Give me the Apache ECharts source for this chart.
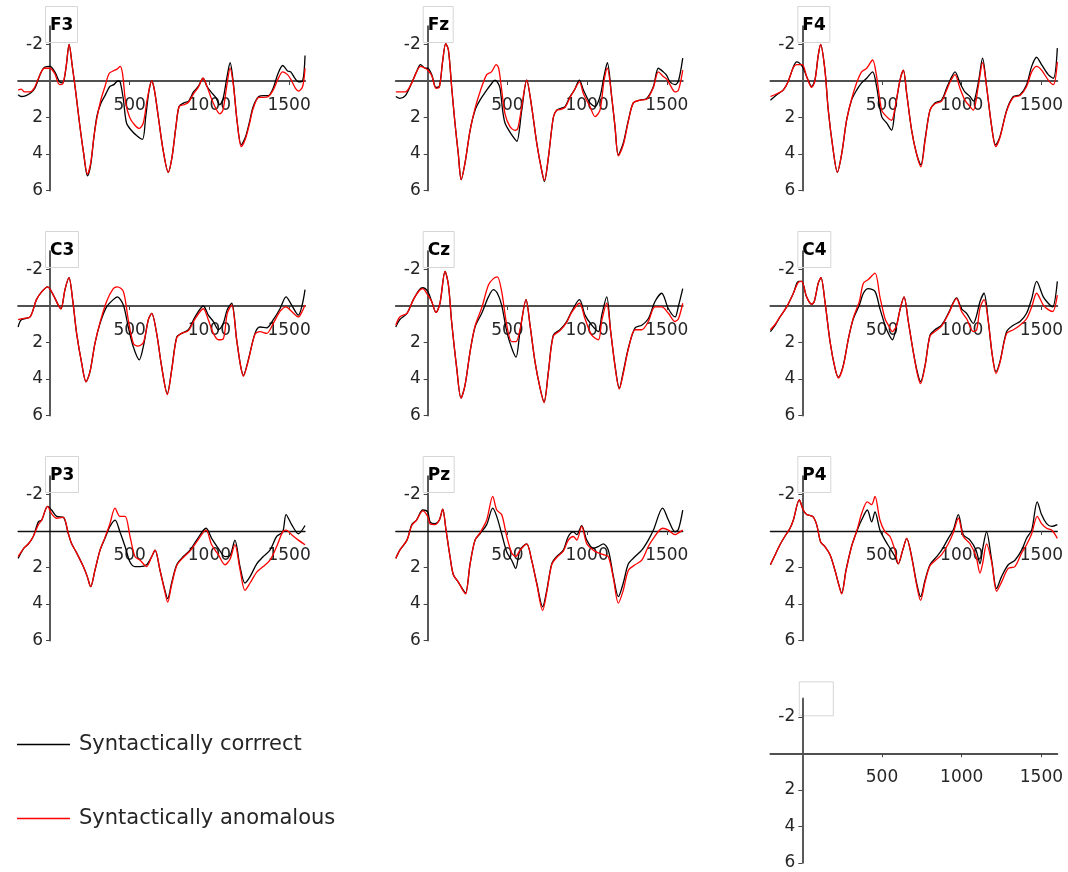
<!DOCTYPE html>
<html><head><meta charset="utf-8">
<script src="https://cdn.jsdelivr.net/npm/echarts@6/dist/echarts.min.js"></script>
<style>html,body{margin:0;padding:0;background:#fff}#c{width:1068px;height:872px}</style>
</head><body><div id="c"></div>
<script>
const channels = ['F3','Fz','F4','C3','Cz','C4','P3','Pz','P4'];
const conditionNames = ['Syntactically corrrect','Syntactically anomalous'];
const xTickLabels = [500, 1000, 1500];
const yTickLabels = [-2, 2, 4, 6];
const timeRange = [-200, 1600];
const ampRange = [-3, 6];

// [time ms, amplitude µV]
const F3_correct = [[-200,0.75],[-180,0.85],[-150,0.8],[-120,0.65],[-95,0.4],[-60,-0.4],[-35,-0.75],[0,-0.8],[30,-0.5],[60,0.05],[80,0.1],[100,-0.7],[120,-2.0],[140,-0.8],[160,0.5],[185,2.3],[210,3.9],[235,5.2],[255,4.6],[275,3.1],[295,1.9],[320,1.2],[345,0.8],[375,0.3],[400,0.2],[425,0.0],[440,0.05],[460,1.0],[480,2.3],[510,2.7],[545,3.0],[580,3.2],[600,2.0],[620,0.6],[638,0.0],[655,0.5],[680,2.0],[710,3.8],[742,5.0],[765,4.2],[790,2.5],[810,1.4],[840,1.2],[870,1.1],[900,0.6],[930,0.3],[960,-0.15],[985,0.3],[1010,0.6],[1040,0.9],[1065,1.3],[1085,1.0],[1110,-0.2],[1130,-1.0],[1150,0.1],[1175,2.3],[1200,3.5],[1225,3.1],[1250,2.3],[1275,1.4],[1310,0.85],[1340,0.8],[1370,0.8],[1400,0.4],[1430,-0.4],[1460,-0.85],[1490,-0.55],[1510,-0.5],[1540,-0.1],[1560,0.05],[1585,0.0],[1600,-1.4]];
const F3_anomalous = [[-200,0.5],[-180,0.45],[-160,0.6],[-130,0.6],[-100,0.4],[-60,-0.4],[-35,-0.7],[0,-0.7],[30,-0.4],[60,0.2],[80,0.15],[100,-0.7],[120,-2.0],[140,-0.8],[160,0.5],[185,2.3],[210,3.9],[235,5.1],[255,4.5],[275,3.1],[295,2.0],[320,1.0],[345,0.3],[370,-0.4],[395,-0.55],[420,-0.65],[440,-0.8],[455,-0.4],[475,1.2],[500,2.0],[530,2.4],[560,2.6],[585,2.3],[610,1.0],[638,0.0],[655,0.5],[680,2.0],[710,3.8],[742,5.0],[765,4.2],[790,2.5],[810,1.4],[840,1.3],[870,1.15],[900,0.7],[930,0.35],[960,-0.15],[985,0.3],[1010,0.9],[1040,1.5],[1065,1.8],[1085,1.6],[1110,0.2],[1130,-0.7],[1150,0.2],[1175,2.3],[1200,3.6],[1225,3.2],[1250,2.4],[1275,1.5],[1310,0.9],[1340,0.9],[1370,0.85],[1400,0.5],[1430,-0.1],[1460,-0.5],[1490,-0.35],[1510,-0.1],[1540,0.4],[1560,0.55],[1585,0.3],[1600,-0.7]];

const Fz_correct = [[-200,0.85],[-175,0.95],[-140,0.8],[-100,0.1],[-70,-0.5],[-45,-0.9],[-15,-0.7],[0,-0.7],[25,-0.35],[52,0.35],[73,0.3],[94,-1.1],[113,-2.05],[130,-1.7],[150,0.3],[171,2.3],[192,4.0],[210,5.4],[234,4.5],[266,2.7],[297,1.6],[328,1.05],[370,0.5],[400,0.15],[422,-0.05],[440,0.1],[454,0.4],[470,1.6],[485,2.3],[516,2.8],[548,3.2],[560,3.3],[590,1.6],[621,-0.05],[652,1.4],[684,3.4],[715,4.9],[732,5.5],[757,4.2],[788,2.0],[809,1.6],[835,1.5],[862,1.4],[893,0.85],[920,0.5],[952,-0.05],[977,0.5],[1018,1.2],[1050,1.4],[1081,0.85],[1106,-0.25],[1127,-1.0],[1154,0.85],[1175,2.5],[1196,4.05],[1227,3.4],[1259,2.15],[1290,1.2],[1332,1.05],[1374,0.95],[1416,0.3],[1447,-0.7],[1478,-0.5],[1500,-0.3],[1520,0.05],[1552,0.2],[1573,0.0],[1600,-1.25]];
const Fz_anomalous = [[-200,0.6],[-175,0.6],[-140,0.6],[-100,0.1],[-70,-0.5],[-45,-0.8],[-15,-0.7],[0,-0.6],[25,-0.3],[52,0.4],[73,0.35],[94,-1.1],[113,-2.05],[130,-1.7],[150,0.3],[171,2.3],[192,4.0],[210,5.4],[234,4.5],[266,2.7],[297,1.5],[328,0.6],[370,-0.35],[400,-0.5],[430,-0.9],[445,-0.7],[460,0.2],[485,1.8],[516,2.5],[548,2.7],[565,2.6],[590,1.4],[621,-0.05],[652,1.4],[684,3.4],[715,4.9],[732,5.45],[757,4.2],[788,2.0],[809,1.6],[835,1.55],[862,1.45],[893,0.9],[920,0.5],[952,0.05],[977,0.7],[1018,1.4],[1050,1.95],[1081,1.6],[1106,0.0],[1127,-0.7],[1154,0.85],[1175,2.5],[1196,4.1],[1227,3.5],[1259,2.2],[1290,1.2],[1332,1.05],[1374,1.0],[1416,0.35],[1447,-0.5],[1478,-0.25],[1500,-0.1],[1520,0.2],[1552,0.6],[1573,0.5],[1600,-0.6]];

const F4_correct = [[-200,1.05],[-160,0.75],[-120,0.5],[-90,0.05],[-55,-0.8],[-35,-1.05],[0,-0.8],[27,-0.25],[59,0.3],[79,-0.05],[100,-1.4],[115,-2.0],[142,-0.6],[163,1.6],[194,3.8],[220,5.0],[247,4.0],[278,2.15],[309,1.05],[341,0.5],[372,0.1],[404,-0.15],[441,-0.5],[466,0.3],[498,1.95],[529,2.3],[560,2.7],[581,1.6],[613,-0.05],[634,-0.6],[655,0.7],[686,2.7],[717,4.0],[744,4.6],[770,3.2],[801,1.6],[832,1.2],[874,1.05],[905,0.4],[930,-0.1],[958,-0.5],[989,0.1],[1020,0.6],[1052,0.85],[1073,1.1],[1104,0.1],[1131,-1.25],[1156,0.3],[1188,2.5],[1213,3.5],[1240,3.05],[1282,1.6],[1324,0.85],[1366,0.75],[1407,0.2],[1439,-0.8],[1470,-1.3],[1501,-0.9],[1543,-0.35],[1575,-0.15],[1600,-1.8]];
const F4_anomalous = [[-200,0.85],[-160,0.7],[-120,0.5],[-90,0.05],[-55,-0.75],[-35,-0.9],[0,-0.9],[27,-0.25],[59,0.35],[79,0.0],[100,-1.4],[115,-2.0],[142,-0.6],[163,1.6],[194,3.8],[220,5.0],[247,4.0],[278,2.15],[309,1.0],[341,0.1],[372,-0.5],[404,-0.7],[441,-1.15],[466,-0.25],[498,1.6],[529,1.95],[560,2.15],[581,1.5],[613,-0.05],[634,-0.6],[655,0.7],[686,2.7],[717,4.0],[744,4.7],[770,3.3],[801,1.6],[832,1.25],[874,1.1],[905,0.5],[930,0.0],[958,-0.35],[989,0.4],[1020,1.05],[1052,1.4],[1073,1.6],[1104,0.3],[1131,-1.0],[1156,0.3],[1188,2.5],[1213,3.6],[1240,3.1],[1282,1.65],[1324,0.9],[1366,0.8],[1407,0.3],[1439,-0.5],[1470,-0.8],[1501,-0.6],[1543,-0.05],[1575,0.2],[1600,-1.05]];

const C3_correct = [[-200,1.15],[-180,0.75],[-125,0.6],[-85,-0.35],[-50,-0.8],[-15,-1.05],[21,-0.6],[52,-0.05],[69,0.15],[94,-0.9],[119,-1.55],[142,-0.35],[167,1.5],[199,3.15],[226,4.15],[251,3.6],[282,2.05],[314,0.95],[355,0.05],[397,-0.35],[422,-0.5],[460,-0.05],[491,1.15],[523,2.25],[560,2.95],[586,2.2],[617,0.75],[638,0.4],[669,1.5],[700,3.3],[736,4.8],[763,3.5],[795,1.7],[826,1.5],[868,1.3],[910,0.6],[962,0.0],[993,0.5],[1025,0.85],[1056,1.3],[1087,0.95],[1112,0.2],[1140,-0.15],[1171,1.85],[1196,3.3],[1213,3.8],[1244,2.95],[1286,1.5],[1317,1.15],[1359,1.2],[1401,0.75],[1443,0.15],[1481,-0.5],[1516,-0.05],[1558,0.5],[1579,0.05],[1600,-0.9]];
const C3_anomalous = [[-200,0.75],[-180,0.7],[-125,0.6],[-85,-0.35],[-50,-0.8],[-15,-1.05],[21,-0.6],[52,-0.05],[69,0.15],[94,-0.9],[119,-1.55],[142,-0.35],[167,1.5],[199,3.15],[226,4.15],[251,3.6],[282,2.05],[314,0.9],[355,-0.25],[397,-0.95],[422,-1.05],[460,-0.8],[491,0.75],[523,2.05],[550,2.2],[586,2.0],[617,0.75],[638,0.4],[669,1.5],[700,3.3],[736,4.85],[763,3.55],[795,1.75],[826,1.5],[868,1.35],[910,0.7],[962,0.15],[993,0.75],[1025,1.5],[1056,1.85],[1087,1.8],[1112,0.4],[1140,-0.05],[1171,1.85],[1196,3.3],[1213,3.85],[1244,3.0],[1286,1.55],[1317,1.4],[1359,1.5],[1401,0.95],[1443,0.3],[1481,0.05],[1516,0.3],[1558,0.6],[1579,0.35],[1600,-0.05]];

const Cz_correct = [[-200,1.15],[-175,0.75],[-130,0.4],[-90,-0.35],[-52,-0.9],[-31,-1.0],[0,-0.8],[25,-0.25],[52,0.35],[77,-0.15],[109,-1.9],[130,-1.15],[150,0.85],[182,3.4],[209,5.05],[234,4.35],[266,2.5],[297,1.15],[339,0.4],[381,-0.5],[412,-0.9],[437,-0.7],[464,-0.05],[496,1.4],[527,2.3],[554,2.8],[579,1.4],[617,-0.35],[642,1.05],[673,3.05],[705,4.5],[730,5.25],[757,3.6],[788,1.6],[830,1.3],[872,0.85],[903,0.3],[952,-0.35],[987,0.5],[1029,1.05],[1071,1.4],[1092,0.5],[1123,-0.5],[1148,1.4],[1175,3.25],[1202,4.5],[1227,3.6],[1259,2.3],[1301,1.2],[1343,1.05],[1384,0.7],[1426,-0.25],[1468,-0.7],[1510,0.15],[1552,0.6],[1573,0.0],[1600,-0.95]];
const Cz_anomalous = [[-200,1.05],[-175,0.6],[-130,0.4],[-90,-0.35],[-52,-0.85],[-31,-0.95],[0,-0.6],[25,-0.25],[52,0.35],[77,-0.15],[109,-1.9],[130,-1.15],[150,0.85],[182,3.4],[209,5.05],[234,4.35],[266,2.5],[297,1.1],[339,0.1],[381,-1.15],[412,-1.5],[437,-1.6],[464,-0.8],[496,1.05],[527,1.95],[554,1.95],[579,1.3],[617,-0.35],[642,1.05],[673,3.05],[705,4.5],[730,5.3],[757,3.65],[788,1.65],[830,1.35],[872,0.9],[903,0.35],[952,-0.15],[987,0.7],[1029,1.6],[1071,1.85],[1092,0.8],[1123,-0.15],[1148,1.4],[1175,3.3],[1202,4.55],[1227,3.7],[1259,2.35],[1301,1.3],[1343,1.3],[1384,0.85],[1426,0.05],[1468,0.05],[1510,0.4],[1552,0.85],[1573,0.7],[1600,-0.15]];

const C4_correct = [[-200,1.4],[-170,1.05],[-140,0.6],[-98,0.05],[-56,-0.7],[-25,-1.35],[-4,-1.35],[27,-0.5],[59,-0.1],[75,-0.25],[100,-1.25],[117,-1.55],[142,-0.25],[174,1.95],[205,3.4],[226,3.9],[257,3.25],[289,1.8],[320,0.7],[358,-0.05],[383,-0.7],[414,-0.95],[456,-0.8],[487,0.15],[519,1.05],[540,1.5],[565,1.85],[592,1.05],[613,0.2],[638,-0.5],[665,0.85],[696,2.5],[721,3.6],[742,4.15],[770,3.25],[801,1.6],[832,1.3],[874,1.05],[916,0.4],[968,-0.45],[999,0.15],[1031,0.4],[1073,0.95],[1094,0.5],[1115,-0.25],[1140,-0.7],[1167,0.85],[1192,2.7],[1215,3.6],[1240,3.05],[1282,1.4],[1324,1.05],[1366,0.85],[1407,0.4],[1439,-0.4],[1470,-1.35],[1512,-0.5],[1543,-0.15],[1570,0.05],[1600,-1.35]];
const C4_anomalous = [[-200,1.3],[-170,1.0],[-140,0.6],[-98,0.05],[-56,-0.7],[-25,-1.3],[-4,-1.35],[27,-0.5],[59,-0.1],[75,-0.25],[100,-1.25],[117,-1.55],[142,-0.25],[174,1.95],[205,3.4],[226,3.95],[257,3.3],[289,1.8],[320,0.65],[358,-0.25],[383,-1.25],[414,-1.45],[456,-1.8],[487,-0.5],[519,0.7],[540,1.05],[565,1.4],[592,1.05],[613,0.2],[638,-0.5],[665,0.85],[696,2.5],[721,3.7],[742,4.25],[770,3.3],[801,1.65],[832,1.4],[874,1.1],[916,0.45],[968,-0.4],[999,0.3],[1031,0.7],[1073,1.4],[1094,1.3],[1115,0.1],[1140,-0.35],[1167,0.85],[1192,2.7],[1215,3.7],[1240,3.1],[1282,1.5],[1324,1.3],[1366,1.05],[1407,0.7],[1439,0.05],[1470,-0.7],[1512,-0.05],[1543,0.2],[1570,0.3],[1600,-0.6]];

const P3_correct = [[-200,1.5],[-165,0.95],[-135,0.7],[-105,0.3],[-73,-0.5],[-52,-0.6],[-15,-1.35],[10,-1.15],[42,-0.8],[84,-0.75],[115,0.15],[136,0.7],[167,1.2],[209,1.95],[234,2.5],[255,3.05],[282,2.15],[314,1.05],[345,0.4],[376,-0.25],[408,-0.6],[439,0.05],[471,0.85],[502,1.7],[533,1.95],[565,1.95],[606,1.85],[638,1.4],[659,1.05],[690,2.15],[721,3.25],[738,3.7],[763,2.85],[795,1.85],[836,1.4],[878,1.05],[920,0.5],[979,-0.15],[1014,0.4],[1056,0.95],[1098,1.4],[1129,1.35],[1160,0.5],[1192,1.95],[1223,2.85],[1255,2.5],[1297,1.8],[1338,1.4],[1380,1.05],[1422,0.3],[1460,0.05],[1481,-0.9],[1516,-0.35],[1558,0.15],[1600,-0.3]];
const P3_anomalous = [[-200,1.4],[-165,0.95],[-135,0.7],[-105,0.3],[-73,-0.35],[-52,-0.6],[-15,-1.35],[10,-0.95],[42,-0.7],[84,-0.75],[115,0.15],[136,0.7],[167,1.2],[209,1.95],[234,2.5],[255,3.05],[282,2.15],[314,1.05],[345,0.35],[376,-0.4],[408,-1.25],[439,-0.8],[471,-0.8],[502,0.3],[533,1.4],[565,1.6],[606,1.95],[638,1.4],[659,1.05],[690,2.15],[721,3.35],[738,3.9],[763,2.95],[795,1.9],[836,1.45],[878,1.1],[920,0.6],[979,-0.05],[1014,0.75],[1056,1.3],[1098,1.85],[1129,1.55],[1160,0.75],[1192,2.1],[1223,3.25],[1255,2.85],[1297,2.25],[1338,1.95],[1380,1.6],[1422,0.85],[1460,0.05],[1481,-0.05],[1516,0.2],[1558,0.5],[1600,0.75]];

const Pz_correct = [[-200,1.5],[-175,1.05],[-130,0.5],[-100,-0.35],[-70,-0.6],[-31,-1.15],[0,-1.05],[15,-0.5],[46,-0.4],[73,-0.6],[94,-1.2],[115,-0.05],[140,1.4],[161,2.4],[192,2.8],[224,3.25],[238,3.4],[266,1.8],[297,0.5],[328,0.15],[370,-0.35],[408,-1.25],[433,-0.8],[464,0.15],[496,1.15],[527,1.6],[552,2.05],[579,1.05],[621,0.7],[652,1.6],[684,2.85],[721,4.15],[747,3.25],[778,1.8],[809,1.4],[851,1.05],[882,0.3],[914,0.05],[935,0.2],[966,-0.3],[998,0.5],[1039,0.95],[1071,0.85],[1102,0.7],[1133,1.05],[1165,2.5],[1196,3.6],[1227,2.85],[1259,1.8],[1301,1.4],[1343,1.05],[1384,0.5],[1416,-0.05],[1474,-1.25],[1510,-0.6],[1552,0.05],[1573,-0.1],[1600,-1.15]];
const Pz_anomalous = [[-200,1.5],[-175,1.05],[-130,0.5],[-100,-0.3],[-70,-0.6],[-31,-1.1],[0,-0.8],[15,-0.4],[46,-0.35],[73,-0.6],[94,-1.2],[115,-0.05],[140,1.4],[161,2.4],[192,2.8],[224,3.3],[238,3.45],[266,1.8],[297,0.5],[328,0.1],[370,-0.6],[408,-1.9],[433,-1.15],[464,-0.9],[496,0.3],[527,1.2],[552,1.4],[579,1.05],[621,0.7],[652,1.6],[684,2.9],[721,4.35],[747,3.35],[778,1.85],[809,1.45],[851,1.1],[882,0.5],[914,0.3],[935,0.5],[966,-0.25],[998,0.7],[1039,1.05],[1071,1.2],[1102,1.3],[1133,1.4],[1165,2.6],[1196,3.95],[1227,3.25],[1259,2.15],[1301,1.85],[1343,1.6],[1384,0.85],[1416,0.4],[1474,-0.15],[1510,-0.05],[1552,0.2],[1573,0.1],[1600,-0.05]];

const P4_correct = [[-200,1.85],[-170,1.3],[-140,0.75],[-110,0.3],[-77,-0.15],[-56,-0.6],[-19,-1.7],[6,-1.15],[27,-0.9],[65,-0.8],[90,-0.35],[115,0.6],[142,0.85],[174,1.3],[205,2.15],[226,2.85],[247,3.4],[274,2.15],[309,0.85],[345,-0.05],[372,-0.6],[408,-1.15],[435,-0.5],[456,-1.05],[487,-0.05],[519,0.5],[550,0.95],[581,1.4],[602,1.8],[630,1.05],[655,0.4],[686,1.4],[717,2.85],[742,3.6],[770,2.7],[801,1.85],[843,1.4],[874,1.05],[916,0.4],[947,-0.05],[979,-0.9],[1010,0.2],[1052,0.5],[1090,1.05],[1115,1.8],[1131,1.0],[1156,0.05],[1188,1.6],[1219,3.15],[1250,2.5],[1292,1.85],[1334,1.6],[1376,1.05],[1407,0.4],[1439,-0.05],[1474,-1.6],[1501,-0.9],[1533,-0.4],[1564,-0.25],[1600,-0.35]];
const P4_anomalous = [[-200,1.85],[-170,1.3],[-140,0.75],[-110,0.3],[-77,-0.15],[-56,-0.6],[-19,-1.7],[6,-1.15],[27,-0.9],[65,-0.8],[90,-0.35],[115,0.6],[142,0.85],[174,1.3],[205,2.15],[226,2.85],[247,3.45],[274,2.2],[309,0.85],[345,-0.1],[372,-0.95],[408,-1.6],[435,-1.45],[456,-1.9],[487,-0.6],[519,0.05],[550,0.3],[581,1.05],[602,1.8],[630,1.05],[655,0.4],[686,1.45],[717,2.95],[742,3.8],[770,2.8],[801,1.9],[843,1.55],[874,1.3],[916,0.7],[947,0.1],[979,-0.7],[1010,0.3],[1052,0.7],[1090,1.4],[1115,2.3],[1131,1.8],[1156,0.7],[1188,1.7],[1219,3.3],[1250,2.8],[1292,2.05],[1334,1.95],[1376,1.2],[1407,0.75],[1439,0.15],[1474,-0.8],[1501,-0.4],[1533,-0.15],[1564,-0.05],[1600,0.4]];

const waves = {
  F3:[F3_correct,F3_anomalous], Fz:[Fz_correct,Fz_anomalous], F4:[F4_correct,F4_anomalous],
  C3:[C3_correct,C3_anomalous], Cz:[Cz_correct,Cz_anomalous], C4:[C4_correct,C4_anomalous],
  P3:[P3_correct,P3_anomalous], Pz:[Pz_correct,Pz_anomalous], P4:[P4_correct,P4_anomalous]
};

// ---- layout ----
const colZeroX = [50, 427.7, 802.3];
const rowZeroY = [81, 306, 531, 753.3];
const pxPerMs = 0.1594, pxPerUv = 18.25;
const FONT = 'DejaVu Sans';
const lineColors = ['#000000', '#ff0000'];

const grids = [], xAxes = [], yAxes = [], series = [], titles = [];
const panels = channels.map((c, i) => ({name: c, row: Math.floor(i / 3), col: i % 3}));
panels.push({name: '', row: 3, col: 2});

// spines sit at the zero of the other axis
const xAxisOffset = -(ampRange[1] - 0) * pxPerUv;   // from grid bottom (inverse y) up to 0 µV
const yAxisOffset = -(0 - timeRange[0]) * pxPerMs;  // from grid left to 0 ms

panels.forEach((p, i) => {
  const x0 = colZeroX[p.col], y0 = rowZeroY[p.row];
  grids.push({
    left: x0 + timeRange[0] * pxPerMs,
    top: y0 + ampRange[0] * pxPerUv,
    width: (timeRange[1] - timeRange[0]) * pxPerMs,
    height: (ampRange[1] - ampRange[0]) * pxPerUv,
    containLabel: false,
    outerBoundsMode: 'none'
  });
  const thinX = p.row === 2;
  xAxes.push({
    gridIndex: i, type: 'value', min: timeRange[0], max: timeRange[1],
    position: 'bottom', offset: xAxisOffset,
    axisLine: {onZero: false, lineStyle: {color: thinX ? '#111' : '#505050', width: thinX ? 1.3 : 2}},
    axisTick: {show: true, customValues: xTickLabels, length: 4, lineStyle: {color: '#444'}},
    axisLabel: {customValues: xTickLabels, margin: 16, fontSize: 17, color: '#262626', fontFamily: FONT,
      formatter: v => String(v)},
    splitLine: {show: false}
  });
  yAxes.push({
    gridIndex: i, type: 'value', min: ampRange[0], max: ampRange[1], inverse: true,
    position: 'left', offset: yAxisOffset,
    axisLine: {onZero: false, lineStyle: {color: '#5a5a5a', width: 2}},
    axisTick: {show: true, customValues: yTickLabels, length: 4, lineStyle: {color: '#444'}},
    axisLabel: {customValues: yTickLabels, margin: 7, fontSize: 17, color: '#262626', fontFamily: FONT,
      formatter: v => String(v)},
    splitLine: {show: false}
  });
  if (p.name) {
    titles.push({
      text: p.name, left: x0 - 5, top: y0 - 75,
      padding: [11, 4, 9, 5], borderColor: '#d6d6d6', borderWidth: 1,
      backgroundColor: 'rgba(255,255,255,0)',
      textStyle: {fontFamily: FONT, fontWeight: 'bold', fontSize: 17, color: '#000'}
    });
    waves[p.name].forEach((d, k) => {
      series.push({
        name: conditionNames[k], type: 'line', xAxisIndex: i, yAxisIndex: i,
        data: d, showSymbol: false, smooth: 0.3, z: 2 + k,
        lineStyle: {width: 1.3, color: lineColors[k]}, itemStyle: {color: lineColors[k]}
      });
    });
  }
});

const chart = echarts.init(document.getElementById('c'), null, {renderer: 'canvas'});
chart.setOption({
  animation: false,
  backgroundColor: '#fff',
  title: titles,
  grid: grids, xAxis: xAxes, yAxis: yAxes, series: series,
  legend: {
    data: conditionNames, orient: 'vertical', left: 12, top: 729,
    itemWidth: 53, itemHeight: 1.6, icon: 'rect', itemGap: 53, selectedMode: false,
    textStyle: {fontSize: 21, color: '#262626', fontFamily: FONT, padding: [0, 0, 0, 4]}
  },
  graphic: [{
    type: 'rect', left: colZeroX[2] - 5.5, top: rowZeroY[3] - 74,
    shape: {width: 34, height: 34}, style: {fill: 'none', stroke: '#d6d6d6', lineWidth: 1}
  }]
});
</script></body></html>
